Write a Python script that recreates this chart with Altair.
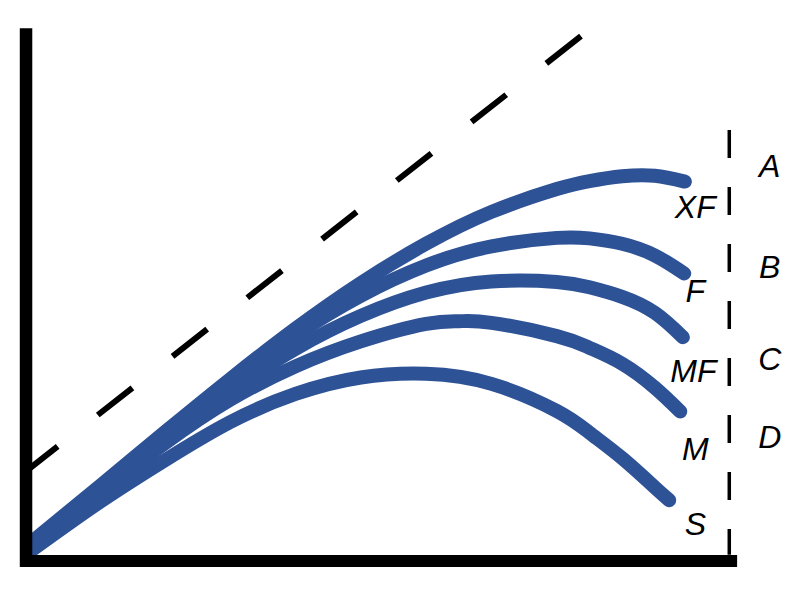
import altair as alt
import pandas as pd

# ---- data (abstract units: x 0..100 along the horizontal axis, y 0..100 up) ----
series = ["XF", "F", "MF", "M", "S"]
xf_x = [0, 10, 20, 30, 40, 50, 60, 70, 80, 85, 90, 95, 99.6]
xf_y = [1.8, 11.9, 22.1, 32.1, 41.6, 50.2, 57.6, 63.6, 67.9, 69.4, 70.3, 70.4, 69.3]
f_x = [0, 10, 20, 30, 40, 50, 60, 70, 80, 85, 90, 95, 99.5]
f_y = [1.6, 11.5, 21.7, 31.5, 40.4, 47.8, 53.5, 57.1, 58.7, 58.6, 57.6, 55.4, 52.0]
mf_x = [0, 10, 20, 30, 40, 50, 60, 70, 80, 85, 90, 95, 99.3]
mf_y = [1.2, 11.1, 21.0, 30.0, 37.8, 44.0, 48.4, 50.5, 50.4, 49.4, 47.6, 44.6, 40.0]
m_x = [0, 10, 20, 30, 40, 50, 60, 65, 70, 80, 85, 90, 95, 98.9]
m_y = [0.8, 10.6, 20.0, 28.2, 34.5, 39.2, 42.5, 43.0, 42.7, 40.2, 38.0, 35.0, 30.5, 26.0]
s_x = [0, 10, 20, 30, 40, 50, 60, 70, 80, 85, 90, 95, 97.2]
s_y = [0.2, 8.9, 16.8, 24.0, 29.3, 32.4, 33.1, 31.2, 26.1, 22.0, 17.2, 11.7, 9.3]

curve_labels = ["XF", "F", "MF", "M", "S"]
curve_label_x = [101.2, 101.2, 100.9, 101.2, 101.2]
curve_label_y = [64.3, 48.5, 33.4, 18.7, 4.6]

zone_labels = ["A", "B", "C", "D"]
zone_label_x = [112.6, 112.6, 112.6, 112.6]
zone_label_y = [72.0, 53.0, 35.7, 21.0]

diag_x = [-1.7, 83.9]
diag_y = [14.3, 96.9]

boundary_x = [106.4]
boundary_y_top = [79.0]
boundary_y_bottom = [-1.0]

yaxis_x = [-1.24]
yaxis_top = [98.2]
yaxis_bottom = [-3.3]
xaxis_y = [-2.17]
xaxis_left = [-2.16]
xaxis_right = [107.6]

BLUE = "#2D5296"

# ---- build tables ----
rows = []
for name, xs_, ys_ in zip(series, [xf_x, f_x, mf_x, m_x, s_x], [xf_y, f_y, mf_y, m_y, s_y]):
    for xv, yv in zip(xs_, ys_):
        rows.append({"series": name, "x": xv, "y": yv})
curves_df = pd.DataFrame(rows)

xs = alt.Scale(domain=[-4, 116], nice=False, zero=False)
ys = alt.Scale(domain=[-8, 102], nice=False, zero=False)

curves = alt.Chart(curves_df).mark_line(
    interpolate="natural", strokeWidth=14, strokeCap="round", strokeJoin="round", color=BLUE
).encode(
    x=alt.X("x:Q", scale=xs, axis=None),
    y=alt.Y("y:Q", scale=ys, axis=None),
    detail="series:N",
)

diag = alt.Chart(pd.DataFrame({"x": diag_x, "y": diag_y})).mark_line(
    strokeDash=[44, 51], strokeWidth=6, color="black", strokeCap="butt"
).encode(x=alt.X("x:Q", scale=xs, axis=None), y=alt.Y("y:Q", scale=ys, axis=None))

boundary = alt.Chart(pd.DataFrame({"x": boundary_x, "y": boundary_y_top, "y2": boundary_y_bottom})).mark_rule(
    strokeDash=[28, 29], strokeWidth=3.5, color="black", strokeCap="butt"
).encode(x=alt.X("x:Q", scale=xs, axis=None), y=alt.Y("y:Q", scale=ys, axis=None), y2="y2:Q")

yaxis = alt.Chart(pd.DataFrame({"x": yaxis_x, "y": yaxis_top, "y2": yaxis_bottom})).mark_rule(
    strokeWidth=12.5, color="black", strokeCap="butt"
).encode(x=alt.X("x:Q", scale=xs, axis=None), y=alt.Y("y:Q", scale=ys, axis=None), y2="y2:Q")

xaxis = alt.Chart(pd.DataFrame({"x": xaxis_left, "x2": xaxis_right, "y": xaxis_y})).mark_rule(
    strokeWidth=12, color="black", strokeCap="butt"
).encode(x=alt.X("x:Q", scale=xs, axis=None), x2="x2:Q", y=alt.Y("y:Q", scale=ys, axis=None))

clabels = alt.Chart(pd.DataFrame({"t": curve_labels, "x": curve_label_x, "y": curve_label_y})).mark_text(
    font="Liberation Sans", fontSize=32, fontStyle="italic", color="black", align="center", baseline="middle"
).encode(x=alt.X("x:Q", scale=xs, axis=None), y=alt.Y("y:Q", scale=ys, axis=None), text="t:N")

zlabels = alt.Chart(pd.DataFrame({"t": zone_labels, "x": zone_label_x, "y": zone_label_y})).mark_text(
    font="Liberation Sans", fontSize=32, fontStyle="italic", color="black", align="center", baseline="middle"
).encode(x=alt.X("x:Q", scale=xs, axis=None), y=alt.Y("y:Q", scale=ys, axis=None), text="t:N")

chart = alt.layer(curves, diag, boundary, yaxis, xaxis, clabels, zlabels).properties(
    width=784, height=584, padding=0, autosize=alt.AutoSizeParams(type="none"),
    background="white",
).configure_view(stroke=None)

chart.save("out.html", embed_options={"renderer": "svg", "actions": False})
